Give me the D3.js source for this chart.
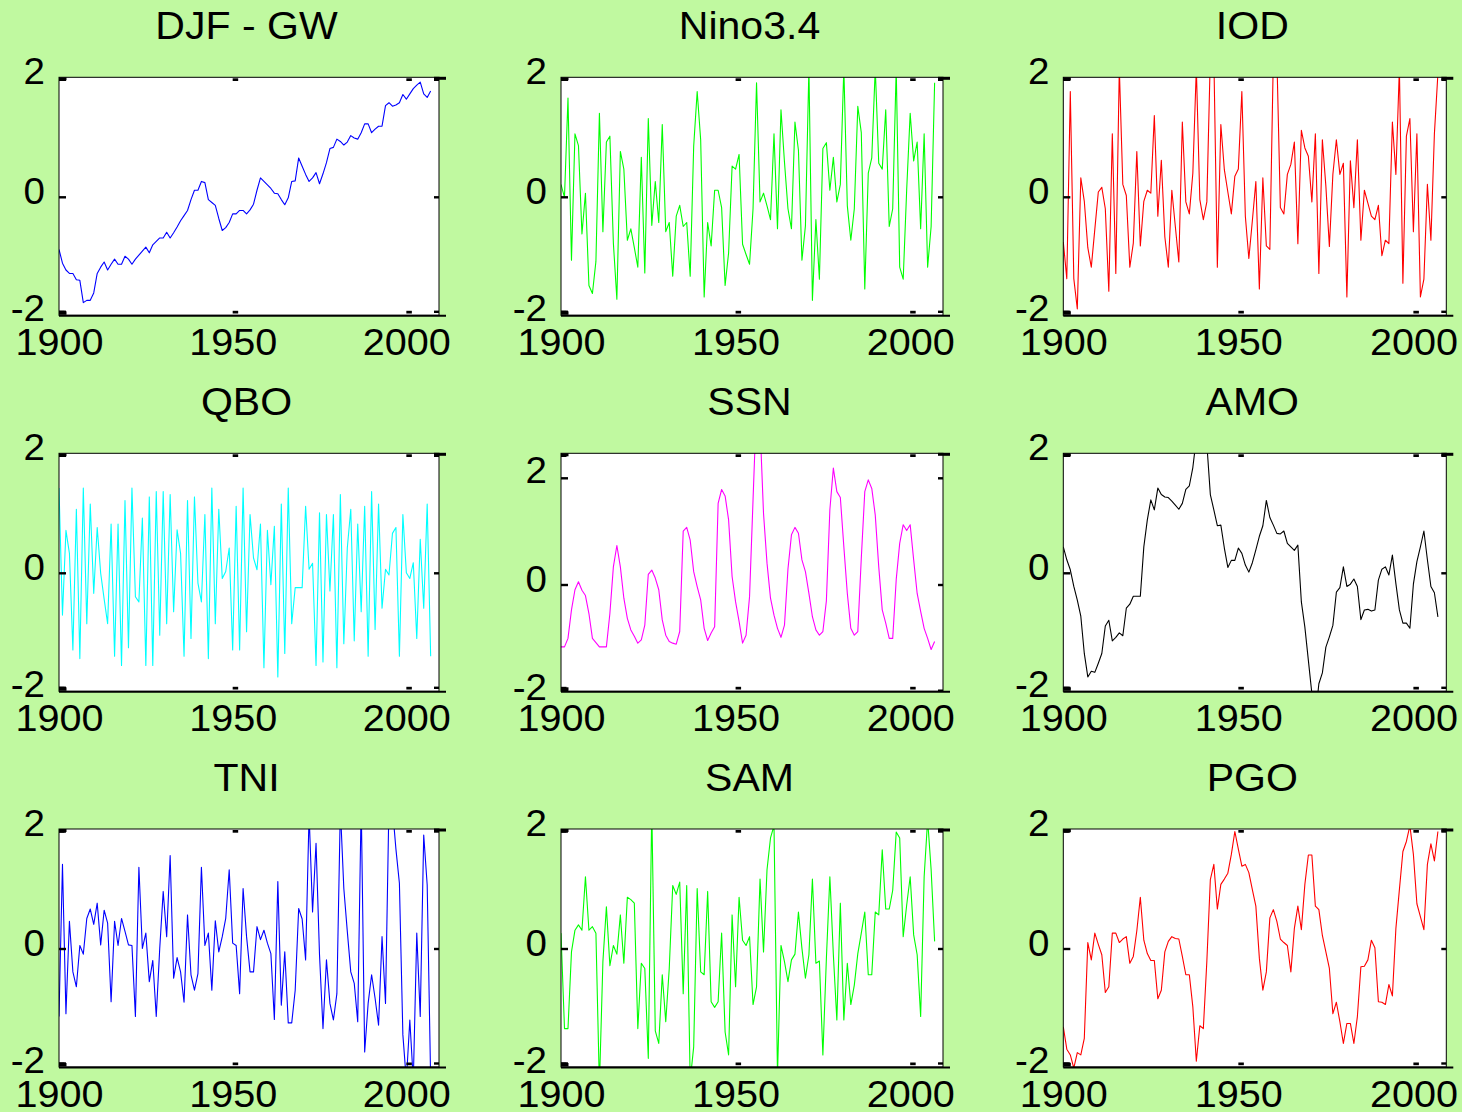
<!DOCTYPE html>
<html>
<head>
<meta charset="utf-8">
<script src="https://cdn.jsdelivr.net/npm/d3@7"></script>
<style>
  html, body { margin: 0; padding: 0; background: #c0f9a0; }
  svg { display: block; }
</style>
</head>
<body>
<div id="chart"></div>
<script>
// yearly series, first value is 1900
const firstYear = 1900;

const djfGw = [-0.91,-1.15,-1.27,-1.33,-1.33,-1.44,-1.45,-1.84,-1.80,-1.80,
  -1.67,-1.33,-1.22,-1.13,-1.27,-1.17,-1.08,-1.17,-1.17,-1.03,
  -1.08,-1.17,-1.08,-1.01,-0.94,-0.87,-0.97,-0.83,-0.77,-0.71,
  -0.71,-0.61,-0.71,-0.62,-0.52,-0.41,-0.32,-0.23,-0.04,0.12,
  0.12,0.27,0.25,-0.04,-0.09,-0.14,-0.37,-0.58,-0.53,-0.44,
  -0.29,-0.29,-0.23,-0.23,-0.29,-0.22,-0.12,0.12,0.33,0.27,
  0.21,0.15,0.07,0.06,-0.04,-0.13,-0.01,0.27,0.28,0.67,
  0.53,0.39,0.27,0.33,0.42,0.23,0.40,0.59,0.83,0.85,
  0.99,0.95,0.89,0.94,1.05,1.01,0.99,1.10,1.25,1.25,
  1.10,1.16,1.21,1.21,1.56,1.61,1.55,1.57,1.61,1.75,
  1.67,1.76,1.85,1.91,1.96,1.76,1.70,1.81];

const nino34 = [0.22,0.0,1.69,-1.1,1.08,0.88,-0.64,0.07,-1.54,-1.68,
  -1.12,1.43,-0.6,0.94,1.04,-0.8,-1.78,0.78,0.48,-0.75,
  -0.55,-0.88,-1.22,0.68,-1.32,1.34,-0.49,0.27,-0.44,1.24,
  -0.6,-0.44,-1.38,-0.33,-0.14,-0.51,-0.44,-1.38,0.87,1.8,
  0.98,-1.74,-0.44,-0.85,0.12,0.12,-0.18,-1.54,-0.97,0.53,
  0.48,0.73,-0.82,-1.0,-1.17,-0.2,1.95,-0.08,0.07,-0.15,
  -0.39,1.08,-0.55,1.49,0.6,-0.2,-0.55,1.28,0.8,-1.1,
  -0.5,2.2,-1.8,-0.39,-1.43,0.83,0.93,0.12,0.68,-0.08,
  0.22,2.2,-0.15,-0.75,-0.2,1.55,1.1,-1.6,0.41,0.67,
  2.2,0.58,0.48,1.49,-0.51,-0.2,2.2,-1.22,-1.43,0.13,
  1.43,0.62,0.94,-0.55,1.08,-1.22,-0.51,1.95];

const iod = [-0.78,-1.42,1.8,-1.42,-1.95,0.33,-0.07,-0.88,-1.22,-0.56,
  0.09,0.17,-0.2,-1.64,1.08,-1.33,2.2,0.22,0.03,-1.22,
  -0.8,0.78,-0.85,-0.07,0.12,0.07,1.39,-0.33,0.63,-0.69,
  -1.22,0.12,-0.51,-1.13,1.28,-0.08,-0.29,0.41,2.2,-0.04,
  -0.39,-0.08,2.4,2.4,-1.22,1.24,0.47,0.09,-0.29,0.36,
  0.48,1.8,-0.33,-1.07,-0.41,0.27,-1.6,0.33,-0.85,-0.91,
  2.4,2.4,-0.18,-0.29,0.39,0.56,0.94,-0.81,1.14,0.84,
  0.7,-0.08,1.08,-1.33,0.98,0.19,-0.86,0.39,0.98,0.39,
  0.58,-1.74,0.62,-0.18,0.98,-0.75,0.12,-0.1,-0.33,-0.39,
  -0.14,-1.02,-0.75,-0.81,1.28,0.39,2.2,-1.5,1.04,1.34,
  -0.6,1.08,-1.74,-1.43,0.22,-0.75,1.08,2.1];

const qbo = [1.45,-0.73,0.73,0.34,-1.34,1.09,-1.49,1.45,-0.88,1.18,
  -0.35,0.78,0.0,-0.45,-0.88,0.84,-1.45,0.84,-1.61,1.24,
  -1.3,1.45,-0.41,-0.5,0.94,-1.61,1.3,-1.61,1.39,-1.08,
  1.39,-0.88,1.34,-0.67,0.74,0.34,-1.45,1.24,-1.14,1.3,
  -0.17,-0.5,1.0,-1.49,1.45,-0.88,1.09,-0.09,0.03,0.43,
  -1.34,1.14,-1.34,1.45,-1.02,1.0,0.26,0.06,0.84,-1.65,
  0.73,-0.2,0.8,-1.81,1.18,-1.4,1.45,-0.88,-0.25,-0.25,
  -0.25,1.14,0.07,0.17,-1.61,1.03,-1.55,1.0,-0.31,1.0,
  -1.65,1.34,-1.23,0.43,1.09,-1.18,0.84,-0.67,1.14,-1.45,
  1.39,-0.98,1.18,-0.61,0.07,-0.03,0.68,0.78,-1.45,1.0,
  0.01,-0.09,0.18,-1.14,0.58,-0.61,1.18,-1.45];

const ssn = [-1.17,-1.17,-1.01,-0.47,-0.09,0.06,-0.1,-0.2,-0.54,-1.01,
  -1.09,-1.17,-1.17,-1.17,-0.54,0.34,0.74,0.34,-0.25,-0.63,
  -0.85,-0.97,-1.1,-1.04,-0.76,0.2,0.28,0.13,-0.09,-0.66,
  -0.95,-1.07,-1.1,-1.12,-0.88,1.01,1.08,0.84,0.25,-0.03,
  -0.28,-0.82,-1.05,-0.91,-0.79,1.53,1.79,1.67,1.22,0.16,
  -0.32,-0.69,-1.1,-0.95,-0.22,1.6,3.4,3.0,1.34,0.41,
  -0.25,-0.57,-0.82,-0.99,-0.76,0.3,0.94,1.08,0.97,0.47,
  0.25,-0.16,-0.6,-0.85,-0.95,-0.88,-0.3,1.41,2.19,1.75,
  1.64,0.72,-0.16,-0.82,-0.95,-0.88,0.5,1.75,1.97,1.81,
  1.31,0.34,-0.47,-0.72,-1.01,-1.01,0.1,0.78,1.13,1.02,
  1.13,0.47,-0.16,-0.5,-0.82,-1.01,-1.22,-1.07];

const amo = [0.45,0.23,0.06,-0.23,-0.47,-0.75,-1.4,-1.81,-1.71,-1.73,
  -1.57,-1.4,-0.92,-0.82,-1.18,-1.12,-1.04,-1.09,-0.61,-0.54,
  -0.4,-0.4,-0.4,0.45,0.91,1.25,1.08,1.45,1.34,1.3,
  1.29,1.23,1.16,1.09,1.19,1.43,1.49,1.8,2.3,2.5,
  2.4,2.2,1.34,1.08,0.81,0.82,0.43,0.1,0.22,0.22,
  0.43,0.34,0.14,0.02,0.18,0.4,0.63,0.81,1.24,0.95,
  0.82,0.68,0.67,0.72,0.51,0.45,0.39,0.48,-0.5,-0.94,
  -1.52,-2.1,-2.5,-1.93,-1.74,-1.29,-1.11,-0.91,-0.33,-0.25,
  0.11,-0.23,-0.19,-0.1,-0.23,-0.81,-0.64,-0.63,-0.66,-0.64,
  -0.12,0.07,0.11,-0.03,0.31,-0.18,-0.64,-0.87,-0.87,-0.96,
  -0.19,0.2,0.45,0.72,0.23,-0.23,-0.34,-0.76];

const tni = [-1.18,1.44,-1.13,0.47,-0.4,-0.66,0.06,-0.09,0.52,0.68,
  0.42,0.78,0.07,0.66,0.44,-0.92,0.47,0.06,0.52,0.3,
  0.07,0.06,-1.18,1.39,0.01,0.27,-0.57,-0.2,-1.18,0.01,
  0.98,0.21,1.59,-0.51,-0.15,-0.4,-0.93,0.58,-0.45,-0.72,
  -0.43,1.39,0.06,0.27,-0.72,0.48,-0.05,0.21,0.52,1.35,
  0.1,0.06,-0.78,1.03,0.21,-0.4,-0.4,0.38,0.16,0.32,
  0.1,-0.08,-1.23,1.15,-0.98,-0.05,-1.29,-1.29,-0.72,0.69,
  0.51,-0.19,2.3,0.63,1.8,-0.1,-1.39,-0.19,-0.95,-1.24,
  -0.78,2.4,1.03,0.3,-0.4,-0.6,-1.27,2.5,-1.8,-0.95,
  -0.45,-0.86,-1.33,0.21,-0.95,2.5,2.4,1.7,1.12,-1.5,
  -2.3,-1.24,-2.3,0.27,-1.18,1.94,1.09,-2.3];

const sam = [0.27,-1.39,-1.39,-0.05,0.32,0.41,0.32,1.23,0.32,0.38,
  0.27,-2.4,-0.22,0.72,-0.29,0.06,-0.09,0.58,-0.25,0.88,
  0.84,0.78,-1.39,-0.25,-0.34,-1.91,2.4,-1.43,-1.65,-0.45,
  -1.27,-0.34,1.08,0.93,1.14,-0.78,1.08,-2.3,-1.71,1.03,
  -0.4,-0.45,0.98,-0.92,-1.02,-0.92,0.27,-1.45,-1.85,0.58,
  -0.66,0.88,0.15,0.06,0.21,-0.97,-0.66,1.19,-0.05,1.35,
  1.89,2.1,-2.2,0.06,-0.22,-0.57,-0.19,-0.09,0.63,0.01,
  -0.51,-0.1,1.19,-0.25,-0.21,-1.85,-0.17,1.23,-0.1,-1.24,
  0.78,-1.24,-0.25,-0.97,-0.63,-0.08,0.27,0.63,-0.45,-0.45,
  0.63,0.58,1.69,0.68,0.68,1.0,1.99,1.89,0.21,0.75,
  1.23,0.24,-0.1,-1.18,1.23,2.2,1.35,0.13];

const pgo = [-1.36,-1.75,-1.85,-2.08,-1.81,-1.85,-1.56,0.11,-0.19,0.27,
  0.08,-0.1,-0.76,-0.66,0.27,0.27,0.11,0.17,0.21,-0.25,
  -0.13,0.31,0.88,0.15,-0.08,-0.2,-0.2,-0.87,-0.72,-0.05,
  0.13,0.21,0.18,0.17,-0.13,-0.45,-0.45,-1.01,-1.96,-1.34,
  -1.39,-0.22,1.18,1.44,0.68,1.1,1.19,1.29,1.61,2.0,
  1.7,1.41,1.44,1.3,1.01,0.73,-0.16,-0.72,-0.4,0.53,
  0.67,0.47,0.17,0.11,0.06,-0.4,0.35,0.73,0.33,1.1,
  1.6,1.6,0.73,0.67,0.23,-0.05,-0.34,-1.13,-0.93,-1.27,
  -1.65,-1.3,-1.3,-1.65,-1.18,-0.31,-0.3,-0.19,0.15,0.02,
  -0.92,-0.93,-0.97,-0.62,-0.82,0.35,1.01,1.66,1.83,2.1,
  1.61,0.77,0.55,0.33,1.44,1.79,1.5,2.0];

const titles = ['DJF - GW', 'Nino3.4', 'IOD', 'QBO', 'SSN', 'AMO', 'TNI', 'SAM', 'PGO'];
const xTicks = [1900, 1950, 2000];
const yTicks = [-2, 0, 2];

// layout (pixels)
const W = 1462, H = 1112;
const bg = '#c0f9a0';
const colLeft = [59, 561, 1063.3];
const colWidth = [380, 382, 383];
const rowTop = [77.3, 453.3, 829];
const boxH = 238;
const xDomain = [1900, 2009.4];
// pixel offsets below the box top for y = -2, 0, 2
const yPixStd = [234.5, 120, 2.5];
const yPixSsn = [237.4, 131.7, 25];
const yLabelShift = { '-2': 9, '0': 6, '2': 4 };
const font = '"Liberation Sans", Arial, Helvetica, sans-serif';

const panels = [
  { values: djfGw, color: '#0000ff', yPix: yPixStd },
  { values: nino34, color: '#00ff00', yPix: yPixStd },
  { values: iod, color: '#ff0000', yPix: yPixStd },
  { values: qbo, color: '#00ffff', yPix: yPixStd },
  { values: ssn, color: '#ff00ff', yPix: yPixSsn },
  { values: amo, color: '#000000', yPix: yPixStd },
  { values: tni, color: '#0000ff', yPix: yPixStd },
  { values: sam, color: '#00ff00', yPix: yPixStd },
  { values: pgo, color: '#ff0000', yPix: yPixStd },
];

const svg = d3.select('#chart').append('svg')
  .attr('width', W)
  .attr('height', H);

svg.append('rect')
  .attr('width', W)
  .attr('height', H)
  .attr('fill', bg);

panels.forEach((p, i) => {
  const col = i % 3;
  const row = Math.floor(i / 3);
  const left = colLeft[col];
  const top = rowTop[row];
  const w = colWidth[col];
  const bottom = top + boxH;
  const right = left + w;

  const x = d3.scaleLinear().domain(xDomain).range([left, right]);
  const y = d3.scaleLinear().domain(yTicks).range(p.yPix.map(o => top + o));

  const g = svg.append('g');

  g.append('rect')
    .attr('x', left).attr('y', top)
    .attr('width', w).attr('height', boxH)
    .attr('fill', '#fff');

  const clipId = 'clip' + i;
  g.append('clipPath').attr('id', clipId)
    .append('rect')
    .attr('x', left).attr('y', top)
    .attr('width', w).attr('height', boxH);

  const line = d3.line()
    .x((d, k) => x(firstYear + k))
    .y(d => y(d));

  g.append('path')
    .datum(p.values)
    .attr('clip-path', `url(#${clipId})`)
    .attr('fill', 'none')
    .attr('stroke', p.color)
    .attr('stroke-width', 1.1)
    .attr('stroke-linejoin', 'round')
    .attr('d', line);

  // box
  g.append('rect')
    .attr('x', left).attr('y', top)
    .attr('width', w).attr('height', boxH)
    .attr('fill', 'none')
    .attr('stroke', '#000')
    .attr('stroke-width', 1);
  g.append('line')
    .attr('x1', left).attr('x2', right + 7)
    .attr('y1', bottom + 0.5).attr('y2', bottom + 0.5)
    .attr('stroke', '#000')
    .attr('stroke-width', 2);

  // tick marks, drawn inside the box
  xTicks.forEach(t => {
    g.append('rect').attr('x', x(t)).attr('y', top + 1)
      .attr('width', 5.5).attr('height', 2.7).attr('fill', '#000');
    g.append('rect').attr('x', x(t)).attr('y', bottom - 4.5)
      .attr('width', 5.5).attr('height', 2.7).attr('fill', '#000');
  });
  yTicks.forEach(t => {
    g.append('rect').attr('x', left).attr('y', y(t) - 1.2)
      .attr('width', 7).attr('height', 2.4).attr('fill', '#000');
    g.append('rect').attr('x', right - 5).attr('y', y(t) - 1.2)
      .attr('width', 5).attr('height', 2.4).attr('fill', '#000');
  });
  // corner marks
  g.append('rect').attr('x', left).attr('y', top)
    .attr('width', 7.5).attr('height', 3).attr('fill', '#000');
  g.append('rect').attr('x', left).attr('y', bottom - 4)
    .attr('width', 7.5).attr('height', 3.5).attr('fill', '#000');
  g.append('rect').attr('x', right - 5).attr('y', top - 0.5)
    .attr('width', 12).attr('height', 3).attr('fill', '#000');

  // x axis labels
  const gx = g.append('g')
    .attr('transform', `translate(0,${bottom})`)
    .call(d3.axisBottom(x).tickValues(xTicks).tickSize(0).tickFormat(d => String(d)))
    .attr('font-size', null)
    .attr('font-family', null);
  gx.select('.domain').remove();
  gx.selectAll('text')
    .attr('y', null)
    .attr('dy', null)
    .attr('transform', 'translate(0,40) scale(1.07,1)')
    .attr('font-size', 37)
    .attr('font-family', font)
    .attr('fill', '#000');

  // y axis labels
  const gy = g.append('g')
    .attr('transform', `translate(${left},0)`)
    .call(d3.axisLeft(y).tickValues(yTicks).tickSize(0).tickFormat(d => String(d)))
    .attr('font-size', null)
    .attr('font-family', null);
  gy.select('.domain').remove();
  gy.selectAll('text')
    .attr('x', null)
    .attr('dy', null)
    .attr('transform', d => `translate(-14,${yLabelShift[String(d)]}) scale(1.07,1)`)
    .attr('font-size', 36)
    .attr('font-family', font)
    .attr('fill', '#000');

  // title
  g.append('text')
    .attr('transform', `translate(${(left + right) / 2 - 2.5},${top - 38.5}) scale(1.08,1)`)
    .attr('text-anchor', 'middle')
    .attr('font-size', 38)
    .attr('font-family', font)
    .attr('fill', '#000')
    .text(titles[i]);
});
</script>
</body>
</html>
